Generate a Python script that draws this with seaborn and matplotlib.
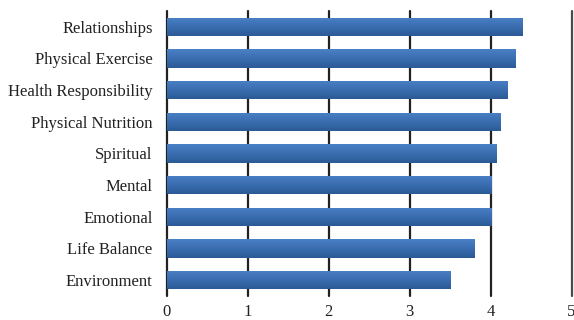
import matplotlib
matplotlib.use("Agg")
import matplotlib.pyplot as plt
import seaborn as sns
import numpy as np
import pandas as pd
from matplotlib.colors import LinearSegmentedColormap

categories = ["Relationships", "Physical Exercise", "Health Responsibility",
              "Physical Nutrition", "Spiritual", "Mental", "Emotional",
              "Life Balance", "Environment"]
values = [4.39, 4.30, 4.20, 4.12, 4.07, 4.01, 4.01, 3.80, 3.50]
x_ticks = [0, 1, 2, 3, 4, 5]

sns.set_theme(style="white")
plt.rcParams['font.family'] = ['Liberation Serif', 'DejaVu Serif']

df = pd.DataFrame({"cat": categories, "val": values})

fig = plt.figure(figsize=(5.74, 3.2), dpi=100)
ax = fig.add_axes([166.5/574, 1 - 296/320, (571.5-166.5)/574, (296-11)/320])

sns.barplot(data=df, x="val", y="cat", orient="h", color="#3a6eb0",
            width=0.57, ax=ax, zorder=3)

cmap = LinearSegmentedColormap.from_list("g", ["#4a80c6", "#3a6eb0", "#2c5a96"])
grad = np.linspace(0, 1, 64).reshape(-1, 1)
for p in ax.patches:
    x0, y0 = p.get_x(), p.get_y()
    w, h = p.get_width(), p.get_height()
    p.set_facecolor("none")
    p.set_edgecolor("none")
    im = ax.imshow(grad, cmap=cmap, aspect="auto", extent=[x0, x0 + w, y0 + h, y0],
                   origin="upper", zorder=3, interpolation="bilinear")
    im.set_clip_path(p)

ax.set_xlim(0, 5)
ax.set_ylim(len(categories) - 0.5, -0.5)
ax.set_xticks(x_ticks)
ax.set_xticklabels([str(t) for t in x_ticks])
for t in x_ticks:
    ax.axvline(t, color="#4a4a4a" if t == 5 else "#222222", lw=1.6, zorder=1,
               clip_on=False)
for s in ["top", "right", "bottom", "left"]:
    ax.spines[s].set_visible(False)
ax.set_xlabel("")
ax.set_ylabel("")
ax.tick_params(axis="both", length=0, labelsize=12, colors="#222222")
ax.tick_params(axis="x", pad=6)
ax.tick_params(axis="y", pad=10)

fig.savefig("out.png", dpi=100)
